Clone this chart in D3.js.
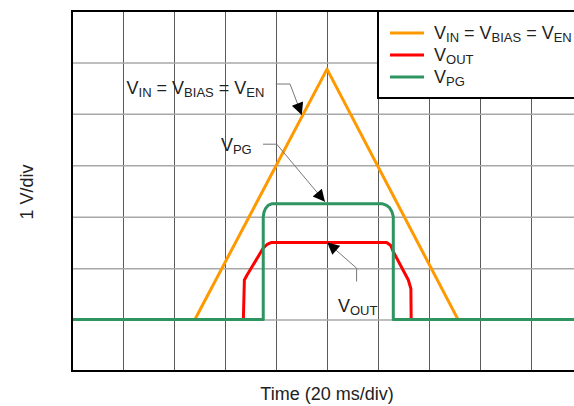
<!DOCTYPE html>
<html>
<head>
<meta charset="utf-8">
<script src="https://cdn.jsdelivr.net/npm/d3@7"></script>
<style>
  body { margin: 0; background: #fff; }
  svg { display: block; font-family: "Liberation Sans", Arial, sans-serif; }
</style>
</head>
<body>
<svg width="574" height="406"></svg>
<script>
// time in ms, volts in V
const vinTime = [0, 48.2, 100, 151.4, 200];
const vinVolts = [0, 0, 4.87, 0, 0];

const voutTime = [0, 67.2, 67.6, 68.6, 75, 76.5, 78.3, 123.4, 125, 126, 131.9, 132.9, 133, 200];
const voutVolts = [0, 0, 0.77, 0.86, 1.39, 1.46, 1.5, 1.5, 1.44, 1.32, 0.77, 0.6, 0, 0];

const vpgTime = [0, 75, 75, 75.3, 75.9, 76.9, 78.3, 121.8, 123.4, 124.6, 125.5, 126, 126, 200];
const vpgVolts = [0, 0, 2.0, 2.09, 2.16, 2.22, 2.25, 2.25, 2.22, 2.17, 2.09, 2.0, 0, 0];

const xTicks = [20, 40, 60, 80, 100, 120, 140, 160, 180];
const yTicks = [0, 1, 2, 3, 4, 5];

const svg = d3.select("svg");
const width = +svg.attr("width");
const height = +svg.attr("height");

const margin = { top: 11, left: 72 };
const innerWidth = 510;
const innerHeight = 360;

const x = d3.scaleLinear().domain([0, 200]).range([margin.left, margin.left + innerWidth]);
const y = d3.scaleLinear().domain([-1, 6]).range([margin.top + innerHeight, margin.top]);

// grid
svg.append("g")
    .attr("transform", `translate(0,${margin.top + innerHeight})`)
    .call(d3.axisBottom(x).tickValues(xTicks).tickSize(-innerHeight).tickFormat(""))
    .call(g => g.select(".domain").remove())
    .call(g => g.selectAll(".tick line").attr("stroke", "#5a5a5a").attr("stroke-width", 1));

svg.append("g")
    .attr("transform", `translate(${margin.left},0)`)
    .call(d3.axisLeft(y).tickValues(yTicks).tickSize(-innerWidth).tickFormat(""))
    .call(g => g.select(".domain").remove())
    .call(g => g.selectAll(".tick line").attr("stroke", "#a8a8a8").attr("stroke-width", 1.5));

const series = [
    { name: "vin", t: vinTime, v: vinVolts, color: "#ff9900" },
    { name: "vout", t: voutTime, v: voutVolts, color: "#ff0000" },
    { name: "vpg", t: vpgTime, v: vpgVolts, color: "#2e9460" }
];

const line = d3.line().x(d => x(d[0])).y(d => y(d[1]));

svg.append("g").selectAll("path")
    .data(series)
    .enter()
    .append("path")
    .attr("d", d => line(d.t.map((t, i) => [t, d.v[i]])))
    .attr("fill", "none")
    .attr("stroke", d => d.color)
    .attr("stroke-width", 3)
    .attr("stroke-linejoin", "round");

// frame
svg.append("rect")
    .attr("x", margin.left)
    .attr("y", margin.top)
    .attr("width", innerWidth)
    .attr("height", innerHeight)
    .attr("fill", "none")
    .attr("stroke", "#000")
    .attr("stroke-width", 2);

// text with subscripts: main parts at 18px, subscripts 13px shifted down
const subLabel = (sel, parts) => {
    let shifted = false;
    parts.forEach(p => {
        const isSub = !!p.sub;
        const dy = isSub && !shifted ? 3 : (!isSub && shifted ? -3 : 0);
        shifted = isSub;
        sel.append("tspan")
            .attr("font-size", isSub ? 13 : 18)
            .attr("dy", dy)
            .text(isSub ? p.sub : p.txt);
    });
};

const vinParts = [{ txt: "V" }, { sub: "IN" }, { txt: " = V" }, { sub: "BIAS" }, { txt: " = V" }, { sub: "EN" }];
const voutParts = [{ txt: "V" }, { sub: "OUT" }];
const vpgParts = [{ txt: "V" }, { sub: "PG" }];

// annotations
const defs = svg.append("defs");
defs.append("marker")
    .attr("id", "arrow")
    .attr("viewBox", "0 0 10 10")
    .attr("refX", 10)
    .attr("refY", 5)
    .attr("markerUnits", "userSpaceOnUse")
    .attr("markerWidth", 15)
    .attr("markerHeight", 12)
    .attr("orient", "auto")
    .append("path")
    .attr("d", "M0,0L10,5L0,10Z")
    .attr("fill", "#000");

const notes = [
    { parts: vinParts, tx: 21.4, tv: 4.39, path: [[79.9, 4.58], [85.5, 4.58], [90.1, 3.98]] },
    { parts: vpgParts, tx: 58.4, tv: 3.28, path: [[74.9, 3.41], [80.3, 3.41], [99.2, 2.29]] },
    { parts: voutParts, tx: 104.3, tv: 0.15, path: [[111.6, 0.74], [111.6, 1.0], [100.1, 1.5]] }
];

notes.forEach(n => {
    const txt = svg.append("text")
        .attr("x", x(n.tx))
        .attr("y", y(n.tv))
        .attr("font-size", 18)
        .attr("fill", "#222");
    subLabel(txt, n.parts);
    svg.append("path")
        .attr("d", line(n.path))
        .attr("fill", "none")
        .attr("stroke", "#777")
        .attr("stroke-width", 1)
        .attr("marker-end", "url(#arrow)");
});

// legend
const legend = svg.append("g");
legend.append("rect")
    .attr("x", 378)
    .attr("y", 11)
    .attr("width", 230)
    .attr("height", 87)
    .attr("fill", "#fff")
    .attr("stroke", "#000")
    .attr("stroke-width", 2);

const legendItems = [
    { parts: vinParts, color: "#ff9900" },
    { parts: voutParts, color: "#ff0000" },
    { parts: vpgParts, color: "#2e9460" }
];

legendItems.forEach((d, i) => {
    const ly = 33 + i * 22;
    legend.append("line")
        .attr("x1", 390).attr("x2", 424)
        .attr("y1", ly).attr("y2", ly)
        .attr("stroke", d.color)
        .attr("stroke-width", 3);
    const txt = legend.append("text")
        .attr("x", 434)
        .attr("y", ly + 6)
        .attr("font-size", 18)
        .attr("fill", "#222");
    subLabel(txt, d.parts);
});

// axis titles
svg.append("text")
    .attr("x", x(100))
    .attr("y", 400)
    .attr("text-anchor", "middle")
    .attr("font-size", 18)
    .attr("fill", "#222")
    .text("Time (20 ms/div)");

svg.append("text")
    .attr("transform", "translate(33,192) rotate(-90)")
    .attr("text-anchor", "middle")
    .attr("font-size", 18)
    .attr("fill", "#222")
    .text("1 V/div");
</script>
</body>
</html>
